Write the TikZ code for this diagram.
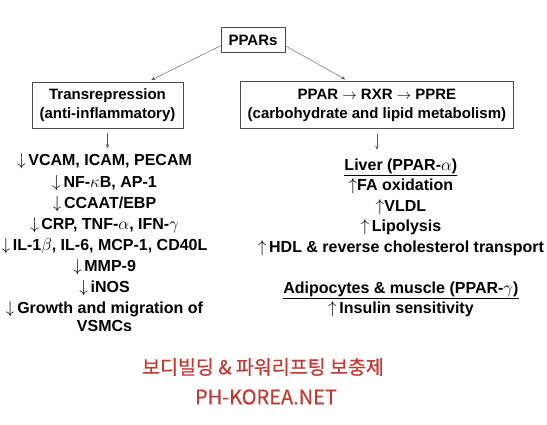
\documentclass[tikz,border=0pt]{standalone}
\usepackage{fontspec}
\setmainfont{Liberation Sans}
\newfontfamily\kofont[FakeBold=0.6]{Noto Sans CJK KR}
\usetikzlibrary{matrix,positioning,arrows.meta}
\definecolor{wmred}{RGB}{194,58,52}

\begin{document}
\begin{tikzpicture}[x=1pt, y=1pt, >={Stealth[length=4pt,width=3.5pt]},
  box/.style={draw=black!70, thin, align=center, inner sep=0pt,
              font=\fontsize{15}{19}\selectfont\bfseries},
  list/.style={matrix of nodes, inner sep=0pt, row sep=6.1pt,
               nodes={anchor=center, inner sep=0pt, text height=11.5pt, text depth=3.5pt,
                      font=\fontsize{16}{19}\selectfont\bfseries}},
  link/.style={->, draw=black!65, thin}
  ]

  \useasboundingbox (0,0) rectangle (547,-425);

  %--- PPARs and the two pathways
  \node[box, minimum width=64pt, minimum height=25pt] (ppars) at (253,-40) {PPARs};

  \node[box, minimum width=151pt, minimum height=46pt] (trans) at (107.5,-105)
    {Transrepression\\(anti-inflammatory)};

  \node[box, minimum width=273pt, minimum height=47pt, right=57pt of trans] (ppre)
    {PPAR $\to$ RXR $\to$ PPRE\\(carbohydrate and lipid metabolism)};

  \draw[link, shorten >=4pt] (ppars.190) -- (trans.30);
  \draw[link, shorten >=4pt] (ppars.350) -- (ppre.140);

  %--- Anti-inflammatory effects
  \matrix[list, below=26pt of trans, xshift=-3pt] (inhib) {
    $\downarrow$\,VCAM, ICAM, PECAM \\
    $\downarrow$\,NF-$\kappa$B, AP-1 \\
    $\downarrow$\,CCAAT/EBP \\
    $\downarrow$\,CRP, TNF-$\alpha$, IFN-$\gamma$ \\
    $\downarrow$\,IL-1$\beta$, IL-6, MCP-1, CD40L \\
    $\downarrow$\,MMP-9 \\
    $\downarrow$\,iNOS \\
    $\downarrow$\,Growth and migration of \\[-3pt]
    VSMCs \\
  };

  %--- Metabolic effects
  \matrix[list, row sep=5.5pt, below=30pt of ppre, xshift=24pt] (liver) {
    \underline{Liver (PPAR-$\alpha$)} \\
    $\uparrow$FA oxidation \\
    $\uparrow$VLDL \\
    $\uparrow$\,Lipolysis \\
    $\uparrow$\,HDL \& reverse cholesterol transport \\[20.5pt]
    \underline{Adipocytes \& muscle (PPAR-$\gamma$)} \\
    $\uparrow$\,Insulin sensitivity \\
  };

  \draw[link, shorten <=5pt, shorten >=6pt] (trans.south) -- (trans.south |- inhib.north);
  \draw[link, shorten <=5pt, shorten >=9pt] (ppre.south) -- (ppre.south |- liver.north);

  %--- Watermark
  \node[font=\kofont\fontsize{19.5}{22}\selectfont, text=wmred] (wmko) at (263,-367)
    {보디빌딩 \& 파워리프팅 보충제};
  \node[font=\kofont\fontsize{20}{22}\selectfont, text=wmred] (wmen) at (266,-397)
    {PH-KOREA.NET};

\end{tikzpicture}
\end{document}
